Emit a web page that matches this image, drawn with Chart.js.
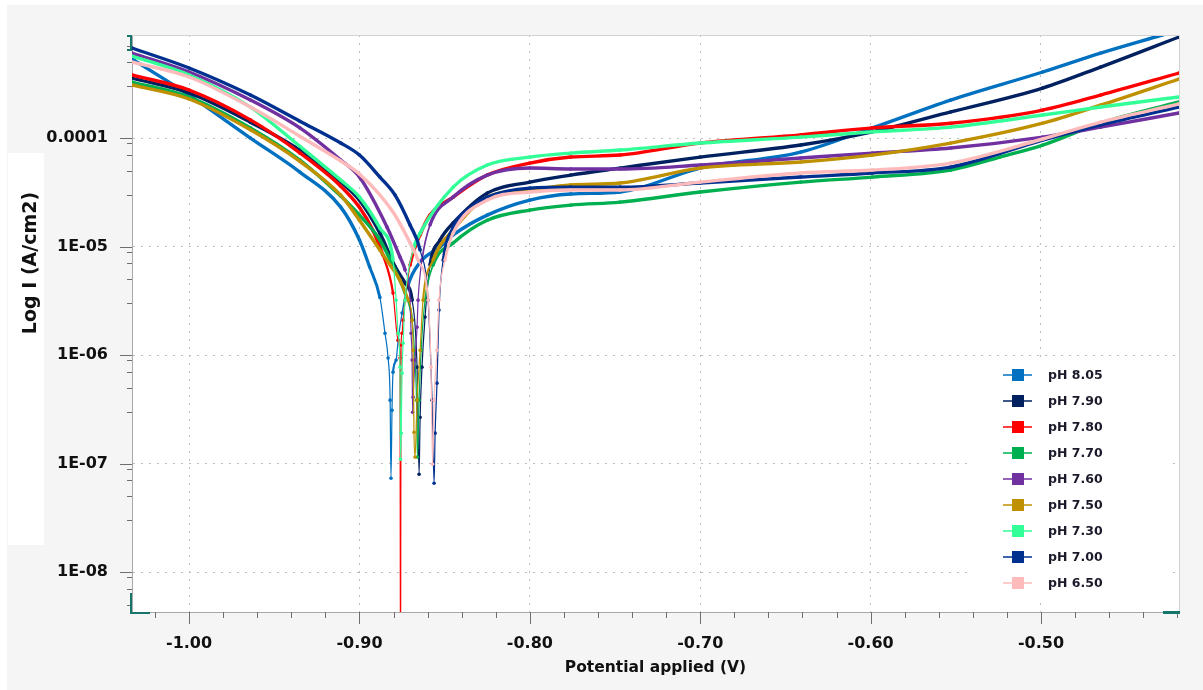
<!DOCTYPE html>
<html>
<head>
<meta charset="utf-8">
<title>Tafel polarization curves</title>
<script src="https://cdn.jsdelivr.net/npm/chart.js@4.4.1/dist/chart.umd.min.js"></script>
<style>
  html, body { margin: 0; padding: 0; background: #f5f5f5; }
  #wrap { width: 1203px; height: 690px; }
</style>
</head>
<body>
<div id="wrap"><canvas id="tafel" width="1203" height="690"></canvas></div>
<script>
// Series labels and colours
const phLabels = ['pH 8.05', 'pH 7.90', 'pH 7.80', 'pH 7.70', 'pH 7.60', 'pH 7.50', 'pH 7.30', 'pH 7.00', 'pH 6.50'];
const phColors = ['#0070C0', '#002060', '#FF0000', '#00B050', '#7030A0', '#BF9000', '#33FF99', '#00308F', '#FFBBBB'];

// Axis ticks
const potentialTicks = [-1.00, -0.90, -0.80, -0.70, -0.60, -0.50];
const currentTicks = [1e-8, 1e-7, 1e-6, 1e-5, 1e-4];

// Potential (V) and current density (A/cm2) for each pH
const e805 = [-1.0335, -1.000, -0.964, -0.935, -0.911, -0.900, -0.894, -0.888, -0.885, -0.8832, -0.882, -0.8815, -0.8809, -0.8803, -0.8785, -0.8773, -0.875, -0.8715, -0.8644, -0.8527, -0.845, -0.825, -0.800, -0.776, -0.747, -0.700, -0.641, -0.599, -0.553, -0.499, -0.465, -0.429, -0.419];
const i805 = [5.35e-4, 2.49e-4, 1.00e-4, 4.86e-5, 2.31e-5, 1.15e-5, 6.47e-6, 3.4e-6, 1.59e-6, 9.4e-7, 3.85e-7, 7.35e-8, 3.11e-7, 6.97e-7, 9.0e-7, 1.37e-6, 2.44e-6, 4.42e-6, 7.20e-6, 9.9e-6, 1.28e-5, 1.95e-5, 2.68e-5, 3.05e-5, 3.18e-5, 5.29e-5, 7.43e-5, 1.24e-4, 2.24e-4, 4.06e-4, 6.07e-4, 8.90e-4, 9.9e-4];

const e790 = [-1.0335, -1.000, -0.964, -0.935, -0.911, -0.900, -0.888, -0.879, -0.8732, -0.8691, -0.8662, -0.8650, -0.8644, -0.8633, -0.8615, -0.8586, -0.8527, -0.845, -0.825, -0.800, -0.776, -0.747, -0.700, -0.641, -0.599, -0.553, -0.499, -0.465, -0.419];
const i790 = [3.57e-4, 2.60e-4, 1.40e-4, 7.75e-5, 3.93e-5, 2.68e-5, 1.33e-5, 6.5e-6, 4.61e-6, 3.21e-6, 7.75e-7, 8.0e-8, 2.68e-7, 7.75e-7, 2.24e-6, 6.75e-6, 1.15e-5, 1.65e-5, 3.11e-5, 3.93e-5, 4.56e-5, 5.29e-5, 6.68e-5, 8.62e-5, 1.14e-4, 1.74e-4, 2.89e-4, 4.51e-4, 8.53e-4];

const e780 = [-1.0335, -1.000, -0.964, -0.935, -0.911, -0.900, -0.892, -0.8862, -0.8803, -0.8773, -0.8762, -0.8759, -0.8756, -0.8750, -0.8744, -0.8732, -0.8703, -0.8644, -0.8586, -0.845, -0.825, -0.800, -0.776, -0.747, -0.700, -0.641, -0.599, -0.553, -0.499, -0.465, -0.419];
const i780 = [3.81e-4, 2.77e-4, 1.47e-4, 7.3e-5, 3.6e-5, 2.3e-5, 1.4e-5, 8.3e-6, 3.73e-6, 1.37e-6, 9.4e-7, 5e-10, 1.24e-6, 1.59e-6, 2.10e-6, 3.21e-6, 6.75e-6, 1.28e-5, 1.95e-5, 2.86e-5, 4.56e-5, 5.88e-5, 6.68e-5, 6.97e-5, 8.99e-5, 1.07e-4, 1.24e-4, 1.37e-4, 1.81e-4, 2.49e-4, 3.97e-4];

const e770 = [-1.0335, -1.000, -0.964, -0.935, -0.911, -0.900, -0.888, -0.8791, -0.8732, -0.8691, -0.8674, -0.8665, -0.8660, -0.8650, -0.8638, -0.8615, -0.8568, -0.845, -0.825, -0.800, -0.776, -0.747, -0.700, -0.641, -0.599, -0.553, -0.524, -0.499, -0.465, -0.419];
const i770 = [3.28e-4, 2.39e-4, 1.24e-4, 6.27e-5, 2.92e-5, 1.95e-5, 1.15e-5, 6.07e-6, 3.73e-6, 2.10e-6, 9.0e-7, 3.85e-7, 1.15e-7, 3.85e-7, 1.11e-6, 3.21e-6, 6.75e-6, 1.08e-5, 1.75e-5, 2.17e-5, 2.41e-5, 2.57e-5, 3.18e-5, 3.93e-5, 4.37e-5, 5.07e-5, 6.68e-5, 8.62e-5, 1.37e-4, 2.15e-4];

const e760 = [-1.0335, -1.000, -0.964, -0.935, -0.911, -0.900, -0.8838, -0.8762, -0.8732, -0.8703, -0.8697, -0.8691, -0.8688, -0.8685, -0.8674, -0.8662, -0.8656, -0.8633, -0.8586, -0.845, -0.825, -0.800, -0.776, -0.747, -0.700, -0.641, -0.599, -0.553, -0.499, -0.465, -0.419];
const i760 = [6.07e-4, 4.06e-4, 2.24e-4, 1.24e-4, 6.27e-5, 4.37e-5, 1.51e-5, 8.0e-6, 6.07e-6, 3.21e-6, 1.59e-6, 9.0e-7, 2.98e-7, 4.10e-7, 9.0e-7, 1.81e-6, 3.21e-6, 7.51e-6, 1.58e-5, 2.86e-5, 4.56e-5, 5.29e-5, 5.18e-5, 5.18e-5, 5.64e-5, 6.54e-5, 7.27e-5, 8.09e-5, 1.02e-4, 1.26e-4, 1.70e-4];

const e750 = [-1.0335, -1.000, -0.964, -0.935, -0.911, -0.900, -0.888, -0.882, -0.8762, -0.8715, -0.8691, -0.8685, -0.8680, -0.8674, -0.8662, -0.8644, -0.8627, -0.8568, -0.845, -0.825, -0.800, -0.776, -0.747, -0.700, -0.641, -0.599, -0.553, -0.499, -0.465, -0.419];
const i750 = [3.08e-4, 2.29e-4, 1.19e-4, 6.1e-5, 2.98e-5, 1.75e-5, 9.3e-6, 6.75e-6, 4.9e-6, 3.21e-6, 2.10e-6, 1.11e-6, 1.95e-7, 1.15e-7, 3.85e-7, 1.11e-6, 3.21e-6, 7.51e-6, 1.42e-5, 2.86e-5, 3.32e-5, 3.69e-5, 3.85e-5, 5.29e-5, 6.01e-5, 6.97e-5, 8.99e-5, 1.37e-4, 2.01e-4, 3.50e-4];

const e730 = [-1.0335, -1.000, -0.964, -0.935, -0.911, -0.900, -0.888, -0.8803, -0.8785, -0.8773, -0.8762, -0.8759, -0.8755, -0.8750, -0.8744, -0.8732, -0.8685, -0.8644, -0.845, -0.825, -0.800, -0.776, -0.747, -0.700, -0.641, -0.599, -0.553, -0.499, -0.465, -0.419];
const i730 = [5.70e-4, 3.81e-4, 1.93e-4, 8.4e-5, 4.1e-5, 2.86e-5, 1.48e-5, 7.51e-6, 3.21e-6, 1.59e-6, 7.75e-7, 1.10e-7, 1.91e-7, 6.82e-7, 1.29e-6, 3.21e-6, 9.3e-6, 1.33e-5, 3.53e-5, 5.64e-5, 6.68e-5, 7.27e-5, 7.75e-5, 8.99e-5, 1.02e-4, 1.14e-4, 1.26e-4, 1.63e-4, 1.93e-4, 2.39e-4];

const e700 = [-1.0335, -1.000, -0.964, -0.935, -0.911, -0.900, -0.888, -0.8791, -0.8703, -0.8644, -0.8597, -0.8574, -0.8562, -0.8556, -0.8545, -0.8533, -0.8509, -0.845, -0.8351, -0.825, -0.800, -0.776, -0.747, -0.700, -0.641, -0.599, -0.553, -0.499, -0.465, -0.419];
const i700 = [6.75e-4, 4.42e-4, 2.49e-4, 1.43e-4, 9.0e-5, 6.97e-5, 4.37e-5, 2.98e-5, 1.58e-5, 9.3e-6, 3.21e-6, 3.85e-7, 6.61e-8, 1.91e-7, 5.52e-7, 2.60e-6, 7.51e-6, 1.51e-5, 2.26e-5, 2.86e-5, 3.46e-5, 3.53e-5, 3.53e-5, 3.85e-5, 4.37e-5, 4.76e-5, 5.40e-5, 9.58e-5, 1.32e-4, 1.93e-4];

const e650 = [-1.0335, -1.000, -0.964, -0.935, -0.911, -0.900, -0.8803, -0.8703, -0.8656, -0.8597, -0.8580, -0.8571, -0.8562, -0.8545, -0.8533, -0.8498, -0.845, -0.825, -0.800, -0.776, -0.747, -0.700, -0.641, -0.599, -0.553, -0.499, -0.465, -0.419];
const i650 = [5.02e-4, 3.65e-4, 1.93e-4, 1.04e-4, 6.14e-5, 4.66e-5, 2.08e-5, 1.08e-5, 7.51e-6, 3.21e-6, 7.75e-7, 9.9e-8, 3.85e-7, 1.11e-6, 3.21e-6, 7.51e-6, 1.33e-5, 2.68e-5, 3.18e-5, 3.32e-5, 3.32e-5, 3.93e-5, 4.76e-5, 5.07e-5, 5.88e-5, 9.8e-5, 1.40e-4, 2.06e-4];

const potentials = [e805, e790, e780, e770, e760, e750, e730, e700, e650];
const currents = [i805, i790, i780, i770, i760, i750, i730, i700, i650];

const font = 'DejaVu Sans';

// line gets thinner as the curve steepens towards Ecorr
function segWidth(ctx) {
  const dx = Math.abs(ctx.p1.x - ctx.p0.x);
  const dy = Math.abs(ctx.p1.y - ctx.p0.y);
  const slope = dy / (dx + 0.001);
  return Math.max(1.2, Math.min(3.4, 3.4 - (slope - 2.5) * 0.9));
}

const datasets = phLabels.map((label, i) => ({
  label: label,
  data: potentials[i].map((e, k) => ({ x: e, y: currents[i][k] })),
  borderColor: phColors[i],
  backgroundColor: phColors[i],
  pointBackgroundColor: phColors[i],
  pointBorderWidth: 0,
  pointRadius: 1.8,
  pointHoverRadius: 0,
  borderWidth: 3.4,
  cubicInterpolationMode: 'monotone',
  order: phLabels.length - i,
  segment: { borderWidth: segWidth }
}));

// background, plot frame, ticks, y title and legend
const decor = {
  id: 'decor',
  beforeDraw(chart) {
    const { ctx, chartArea: a } = chart;
    ctx.save();
    ctx.fillStyle = '#f5f5f5';
    ctx.fillRect(0, 0, chart.width, chart.height);
    ctx.fillStyle = '#ffffff';
    ctx.fillRect(0, 0, chart.width, 5);
    ctx.fillRect(0, 0, 7, chart.height);
    ctx.fillRect(8, 153, 36, 392);
    ctx.fillRect(a.left, a.top, a.right - a.left, a.bottom - a.top);
    ctx.restore();
  },
  afterDraw(chart) {
    const { ctx, chartArea: a } = chart;
    const xs = chart.scales.x, ys = chart.scales.y;
    ctx.save();

    // top and right edges of the plot
    ctx.strokeStyle = '#d2d2d2';
    ctx.lineWidth = 1;
    ctx.beginPath();
    ctx.moveTo(a.left, a.top + 0.5);
    ctx.lineTo(a.right + 0.5, a.top + 0.5);
    ctx.lineTo(a.right + 0.5, a.bottom);
    ctx.stroke();

    // x tick marks every 0.02 V, longer at each 0.1 V
    ctx.strokeStyle = '#6e6e6e';
    for (let k = -51; k <= -21; k++) {
      const v = k * 0.02;
      if (v < xs.min || v > xs.max) continue;
      const px = Math.round(xs.getPixelForValue(v)) + 0.5;
      const len = k % 5 === 0 ? 12 : 6;
      ctx.beginPath();
      ctx.moveTo(px, a.bottom);
      ctx.lineTo(px, a.bottom + len);
      ctx.stroke();
    }
    // y tick marks, decades long, intermediates short
    for (let d = -9; d <= -3; d++) {
      [1, 3, 5, 7, 9].forEach(m => {
        const v = m * Math.pow(10, d);
        if (v < ys.min || v > ys.max) return;
        const py = Math.round(ys.getPixelForValue(v)) + 0.5;
        const len = m === 1 ? 12 : 5;
        ctx.beginPath();
        ctx.moveTo(a.left - len, py);
        ctx.lineTo(a.left, py);
        ctx.stroke();
      });
    }

    // corner markers
    ctx.strokeStyle = '#17766b';
    ctx.lineWidth = 2;
    ctx.beginPath();
    ctx.moveTo(127, 36); ctx.lineTo(131, 36); ctx.lineTo(131, 50); ctx.lineTo(127, 50);
    ctx.stroke();
    ctx.beginPath();
    ctx.moveTo(131, 593); ctx.lineTo(131, 613); ctx.lineTo(150, 613);
    ctx.stroke();
    ctx.lineWidth = 3;
    ctx.beginPath();
    ctx.moveTo(1163, 612.5); ctx.lineTo(1180, 612.5);
    ctx.stroke();

    // y axis title
    ctx.save();
    ctx.translate(31, 263);
    ctx.rotate(-Math.PI / 2);
    ctx.font = 'bold 19px "' + font + '"';
    ctx.fillStyle = '#111111';
    ctx.textAlign = 'center';
    ctx.textBaseline = 'middle';
    ctx.fillText('Log I (A/cm2)', 0, 0);
    ctx.restore();

    // legend
    ctx.fillStyle = '#ffffff';
    ctx.fillRect(972, 358, 198, 240);
    ctx.font = 'bold 12.5px "' + font + '"';
    ctx.textBaseline = 'middle';
    ctx.textAlign = 'left';
    chart.data.datasets.forEach((ds, i) => {
      const y = 375 + i * 26;
      ctx.strokeStyle = ds.borderColor;
      ctx.lineWidth = 1.5;
      ctx.beginPath();
      ctx.moveTo(1003, y);
      ctx.lineTo(1032, y);
      ctx.stroke();
      ctx.fillStyle = ds.borderColor;
      ctx.fillRect(1012, y - 6, 12, 12);
      ctx.fillStyle = '#1a1a2a';
      ctx.fillText(ds.label, 1048, y + 1);
    });
    ctx.restore();
  }
};

new Chart(document.getElementById('tafel').getContext('2d'), {
  type: 'line',
  data: { datasets: datasets },
  options: {
    responsive: false,
    animation: false,
    events: [],
    layout: { padding: { left: 0, top: 35, right: 24, bottom: 0 } },
    plugins: {
      legend: { display: false },
      tooltip: { enabled: false }
    },
    scales: {
      x: {
        type: 'linear',
        min: -1.0335,
        max: -0.419,
        afterBuildTicks: s => { s.ticks = potentialTicks.map(v => ({ value: v })); },
        afterFit: s => { s.height = 78; },
        ticks: {
          callback: v => v.toFixed(2),
          color: '#111111',
          font: { family: font, weight: 'bold', size: 16 },
          padding: 10,
          maxRotation: 0,
          autoSkip: false
        },
        grid: { color: '#bdbdbd', lineWidth: 1, tickLength: 12, tickColor: 'transparent' },
        border: { display: true, color: '#a8a8a8', width: 1, dash: [2, 6] },
        title: {
          display: true,
          text: 'Potential applied (V)',
          color: '#111111',
          font: { family: font, weight: 'bold', size: 15.5 },
          padding: { top: 0, bottom: 13 }
        }
      },
      y: {
        type: 'logarithmic',
        min: 4.3e-9,
        max: 8.9e-4,
        afterBuildTicks: s => { s.ticks = currentTicks.map(v => ({ value: v })); },
        afterFit: s => { s.width = 132; },
        ticks: {
          callback: v => v >= 1e-4 ? '0.0001' : '1E-' + String(-Math.round(Math.log10(v))).padStart(2, '0'),
          color: '#111111',
          font: { family: font, weight: 'bold', size: 16 },
          padding: 12,
          autoSkip: false
        },
        grid: { color: '#bdbdbd', lineWidth: 1, tickLength: 12, tickColor: 'transparent' },
        border: { display: true, color: '#a8a8a8', width: 1, dash: [2, 6] }
      }
    }
  },
  plugins: [decor]
});
</script>
</body>
</html>
